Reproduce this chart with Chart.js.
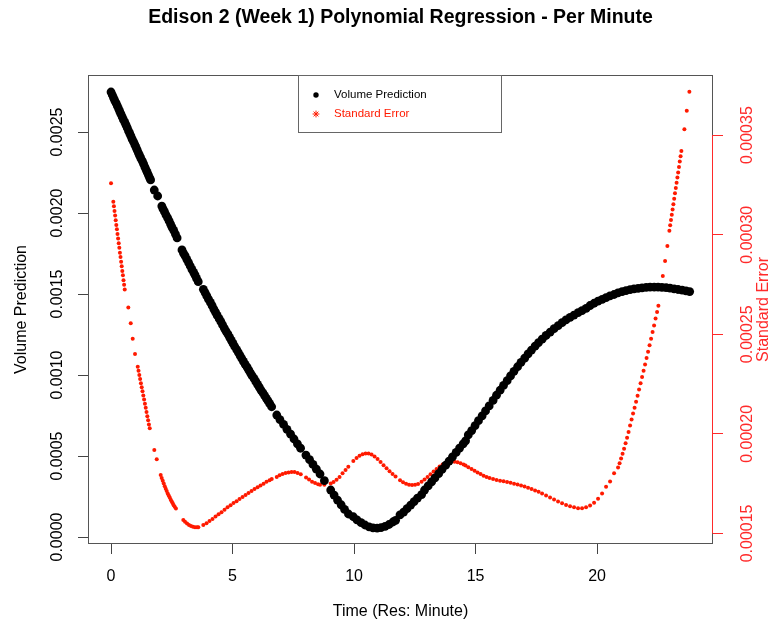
<!DOCTYPE html>
<html>
<head>
<meta charset="utf-8">
<script src="https://cdn.jsdelivr.net/npm/chart.js@4.4.0/dist/chart.umd.min.js"></script>
<style>
  html, body { margin: 0; padding: 0; background: #fff; }
  #wrap { width: 775px; height: 627px; }
</style>
</head>
<body>
<div id="wrap"><canvas id="chart" width="775" height="627"></canvas></div>
<script>
// time of day (hours) for the volume prediction points
const timeVol = [0, 0.05, 0.10, 0.15, 0.21, 0.26, 0.31, 0.36, 0.41, 0.46, 0.51, 0.57, 0.62, 0.67, 0.72, 0.77, 0.82, 0.87, 0.93, 0.98,
  1.03, 1.08, 1.13, 1.18, 1.23, 1.29, 1.34, 1.39, 1.44, 1.49, 1.54, 1.59, 1.63,
  1.78, 1.92,
  2.09, 2.14, 2.20, 2.26, 2.33, 2.39, 2.45, 2.51, 2.58, 2.65, 2.72,
  2.92, 2.98, 3.05, 3.12, 3.19, 3.26, 3.33, 3.40, 3.46, 3.52, 3.59,
  3.80, 3.87, 3.94, 4.01, 4.09, 4.16, 4.23, 4.30, 4.37, 4.45, 4.52, 4.59, 4.66, 4.73, 4.81, 4.88, 4.95, 5.02, 5.09, 5.17,
  5.24, 5.31, 5.38, 5.45, 5.52, 5.60, 5.67, 5.74, 5.81, 5.89, 5.96, 6.03, 6.10, 6.17, 6.25, 6.32, 6.39, 6.46, 6.53, 6.61,
  6.82, 6.95, 7.10, 7.24, 7.39, 7.53, 7.67, 7.80, 8.02, 8.17, 8.31, 8.45, 8.60, 8.78,
  9.04, 9.18, 9.32, 9.47, 9.61, 9.77, 9.97, 10.12, 10.29, 10.45, 10.62, 10.78, 10.95, 11.11, 11.28, 11.44, 11.60, 11.71,
  11.89, 12.04, 12.18, 12.33, 12.47, 12.61, 12.78, 12.90, 13.05, 13.19, 13.33, 13.48, 13.62, 13.77, 13.91, 14.05, 14.20, 14.34, 14.49, 14.59,
  14.70, 14.84, 14.98, 15.12, 15.27, 15.41, 15.56, 15.72, 15.86, 16.01, 16.15, 16.30, 16.44, 16.58, 16.73, 16.87, 17.02, 17.16, 17.30, 17.45, 17.59, 17.74,
  17.90, 18.07, 18.23, 18.40, 18.56, 18.72, 18.89, 19.05, 19.22, 19.38, 19.55, 19.71, 19.88, 20.04, 20.21, 20.37, 20.53, 20.70,
  20.86, 21.03, 21.19, 21.36, 21.52, 21.69, 21.85, 22.02, 22.18, 22.35, 22.51, 22.67, 22.84, 23.00, 23.17, 23.33, 23.50, 23.66, 23.81];

const volume = [0.002747, 0.002730, 0.002713, 0.002696, 0.002678, 0.002661, 0.002645, 0.002627, 0.002610, 0.002593, 0.002576, 0.002559, 0.002542, 0.002525, 0.002507, 0.002491, 0.002474, 0.002456, 0.002439, 0.002422,
  0.002405, 0.002388, 0.002370, 0.002354, 0.002337, 0.002320, 0.002303, 0.002285, 0.002268, 0.002251, 0.002234, 0.002217, 0.002204,
  0.002142, 0.002105,
  0.002043, 0.002025, 0.002008, 0.001989, 0.001970, 0.001951, 0.001932, 0.001912, 0.001893, 0.001870, 0.001846,
  0.001772, 0.001753, 0.001735, 0.001714, 0.001694, 0.001673, 0.001652, 0.001634, 0.001616, 0.001596, 0.001576,
  0.001529, 0.001509, 0.001488, 0.001468, 0.001448, 0.001428, 0.001407, 0.001388, 0.001368, 0.001348, 0.001329, 0.001309, 0.001290, 0.001271, 0.001252, 0.001233, 0.001214, 0.001195, 0.001176, 0.001157,
  0.001139, 0.001120, 0.001102, 0.001084, 0.001066, 0.001048, 0.001030, 0.001012, 0.000994, 0.000977, 0.000959, 0.000942, 0.000925, 0.000907, 0.000890, 0.000873, 0.000856, 0.000840, 0.000823, 0.000804,
  0.000753, 0.000725, 0.000695, 0.000665, 0.000635, 0.000605, 0.000575, 0.000548, 0.000506, 0.000477, 0.000448, 0.000419, 0.000389, 0.000348,
  0.000290, 0.000259, 0.000228, 0.000199, 0.000170, 0.000142, 0.000125, 0.000106, 0.0000883, 0.0000741, 0.0000630, 0.0000562, 0.0000543, 0.0000574, 0.0000661, 0.0000772, 0.0000926, 0.000103,
  0.000136, 0.000154, 0.000175, 0.000197, 0.000219, 0.000240, 0.000262, 0.000290, 0.000315, 0.000340, 0.000365, 0.000391, 0.000417, 0.000443, 0.000469, 0.000495, 0.000522, 0.000548, 0.000575, 0.000594,
  0.000630, 0.000657, 0.000688, 0.000718, 0.000748, 0.000778, 0.000809, 0.000843, 0.000875, 0.000906, 0.000936, 0.000965, 0.000994, 0.001023, 0.001051, 0.001078, 0.001104, 0.001130, 0.001154, 0.001178, 0.001200, 0.001221,
  0.001244, 0.001265, 0.001286, 0.001305, 0.001323, 0.001340, 0.001356, 0.001370, 0.001385, 0.001398, 0.001411, 0.001429, 0.001443, 0.001456, 0.001467, 0.001478, 0.001488, 0.001497,
  0.001507, 0.001515, 0.001521, 0.001527, 0.001532, 0.001535, 0.001538, 0.001541, 0.001543, 0.001543, 0.001543, 0.001541, 0.001539, 0.001536, 0.001532, 0.001528, 0.001524, 0.001519, 0.001515];

// time of day (hours) for the standard error points
const timeSe = [0,
  0.095, 0.119, 0.144, 0.169, 0.193, 0.218, 0.243, 0.267, 0.292, 0.317, 0.342, 0.366, 0.391, 0.416, 0.440, 0.465, 0.490, 0.514, 0.539, 0.564,
  0.712, 0.811, 0.893, 0.988,
  1.099, 1.132, 1.165, 1.198, 1.230, 1.263, 1.296, 1.329, 1.362, 1.395, 1.428, 1.461, 1.494, 1.527, 1.560, 1.593,
  1.782, 1.881,
  2.045, 2.086, 2.128, 2.169, 2.210, 2.251, 2.292, 2.333, 2.374, 2.416, 2.457, 2.498, 2.539, 2.580, 2.621, 2.671,
  2.975, 3.045, 3.128, 3.210, 3.292, 3.374, 3.457, 3.539, 3.593,
  3.798, 3.930, 4.053, 4.177, 4.300, 4.424, 4.547, 4.671, 4.794, 4.918, 5.041, 5.165, 5.288, 5.412, 5.535, 5.658, 5.782, 5.905, 6.029, 6.152, 6.276, 6.399, 6.523, 6.613,
  6.819, 6.934, 7.058, 7.181, 7.305, 7.428, 7.551, 7.675, 7.807,
  8.025, 8.148, 8.272, 8.395, 8.519, 8.601, 8.778,
  9.041, 9.156, 9.280, 9.403, 9.527, 9.650, 9.765,
  9.971, 10.103, 10.226, 10.350, 10.473, 10.597, 10.720, 10.844, 10.967, 11.091, 11.214, 11.337, 11.461, 11.584, 11.708,
  11.893, 12.016, 12.140, 12.263, 12.387, 12.510, 12.634, 12.778,
  12.901, 13.025, 13.148, 13.272, 13.395, 13.519, 13.642, 13.765, 13.889, 14.012, 14.136, 14.259, 14.383, 14.506, 14.588,
  14.704, 14.835, 14.959, 15.082, 15.206, 15.329, 15.453, 15.576, 15.720,
  15.864, 16.008, 16.152, 16.296, 16.440, 16.584, 16.728, 16.872, 17.016, 17.160, 17.305, 17.449, 17.593, 17.737, 17.901, 18.066,
  18.230, 18.395, 18.560, 18.724, 18.889, 19.053, 19.218, 19.383, 19.547, 19.712, 19.877, 20.041, 20.206, 20.370, 20.535, 20.700,
  20.864, 20.926, 20.988, 21.049, 21.111, 21.173, 21.235, 21.296, 21.358, 21.420, 21.481, 21.543, 21.605, 21.667, 21.728, 21.790,
  21.852, 21.914, 21.975, 22.037, 22.099, 22.160, 22.222, 22.284, 22.346, 22.407, 22.469, 22.523,
  22.704, 22.798, 22.893,
  22.975, 23.008, 23.041, 23.074, 23.107, 23.140, 23.173, 23.206, 23.239, 23.272, 23.305, 23.337, 23.370, 23.403, 23.436, 23.469,
  23.593, 23.691, 23.798];

const stdErr = [0.0003258,
  0.0003166, 0.0003143, 0.0003119, 0.0003096, 0.0003073, 0.0003049, 0.0003027, 0.0003003, 0.0002981, 0.0002957, 0.0002934, 0.0002910, 0.0002888, 0.0002864, 0.0002842, 0.0002818, 0.0002796, 0.0002772, 0.0002749, 0.0002725,
  0.0002634, 0.0002555, 0.0002477, 0.0002401,
  0.0002337, 0.0002317, 0.0002296, 0.0002275, 0.0002254, 0.0002234, 0.0002214, 0.0002193, 0.0002172, 0.0002151, 0.0002131, 0.0002110, 0.0002089, 0.0002068, 0.0002047, 0.0002028,
  0.0001919, 0.0001872,
  0.0001793, 0.0001779, 0.0001765, 0.0001751, 0.0001737, 0.0001725, 0.0001713, 0.0001700, 0.0001690, 0.0001680, 0.0001669, 0.0001660, 0.0001651, 0.0001642, 0.0001634, 0.0001625,
  0.0001568, 0.0001559, 0.0001550, 0.0001543, 0.0001538, 0.0001534, 0.0001531, 0.0001531, 0.0001531,
  0.0001542, 0.0001551, 0.0001562, 0.0001573, 0.0001585, 0.0001596, 0.0001607, 0.0001619, 0.0001631, 0.0001642, 0.0001653, 0.0001662, 0.0001673, 0.0001683, 0.0001693, 0.0001703, 0.0001713, 0.0001723, 0.0001732, 0.0001741, 0.0001750, 0.0001759, 0.0001767, 0.0001774,
  0.0001784, 0.0001792, 0.0001798, 0.0001803, 0.0001806, 0.0001808, 0.0001808, 0.0001804, 0.0001797,
  0.0001781, 0.0001771, 0.0001760, 0.0001753, 0.0001747, 0.0001745, 0.0001744,
  0.0001751, 0.0001758, 0.0001770, 0.0001784, 0.0001802, 0.0001819, 0.0001835,
  0.0001864, 0.0001879, 0.0001890, 0.0001898, 0.0001902, 0.0001901, 0.0001896, 0.0001886, 0.0001874, 0.0001859, 0.0001843, 0.0001827, 0.0001812, 0.0001798, 0.0001786,
  0.0001767, 0.0001757, 0.0001749, 0.0001745, 0.0001743, 0.0001744, 0.0001748, 0.0001759,
  0.0001771, 0.0001784, 0.0001797, 0.0001811, 0.0001824, 0.0001836, 0.0001846, 0.0001853, 0.0001859, 0.0001861, 0.0001860, 0.0001858, 0.0001852, 0.0001846, 0.0001841,
  0.0001833, 0.0001824, 0.0001815, 0.0001806, 0.0001798, 0.0001790, 0.0001784, 0.0001778, 0.0001773,
  0.0001768, 0.0001765, 0.0001762, 0.0001758, 0.0001755, 0.0001750, 0.0001746, 0.0001741, 0.0001736, 0.0001729, 0.0001723, 0.0001716, 0.0001709, 0.0001700, 0.0001690, 0.0001681,
  0.0001671, 0.0001660, 0.0001651, 0.0001643, 0.0001636, 0.0001631, 0.0001627, 0.0001627, 0.0001632, 0.0001640, 0.0001654, 0.0001674, 0.0001701, 0.0001734, 0.0001761, 0.0001802,
  0.0001831, 0.0001853, 0.0001876, 0.0001900, 0.0001925, 0.0001953, 0.0001980, 0.0002009, 0.0002042, 0.0002072, 0.0002102, 0.0002131, 0.0002161, 0.0002192, 0.0002223, 0.0002254,
  0.0002285, 0.0002317, 0.0002348, 0.0002381, 0.0002412, 0.0002445, 0.0002478, 0.0002511, 0.0002544, 0.0002579, 0.0002612, 0.0002643,
  0.0002793, 0.0002868, 0.0002943,
  0.0003020, 0.0003047, 0.0003074, 0.0003100, 0.0003127, 0.0003153, 0.0003181, 0.0003208, 0.0003234, 0.0003261, 0.0003287, 0.0003313, 0.0003340, 0.0003368, 0.0003394, 0.0003421,
  0.0003530, 0.0003622, 0.0003718];

const xTicks = [0, 5, 10, 15, 20];
const xTickLabels = ['0', '5', '10', '15', '20'];
const volTicks = [0, 0.0005, 0.001, 0.0015, 0.002, 0.0025];
const volTickLabels = ['0.0000', '0.0005', '0.0010', '0.0015', '0.0020', '0.0025'];
const seTicks = [0.00015, 0.0002, 0.00025, 0.0003, 0.00035];
const seTickLabels = ['0.00015', '0.00020', '0.00025', '0.00030', '0.00035'];

const FONT = "'Liberation Sans', Arial, Helvetica, sans-serif";
const RED = '#ff1a00';
const AXIS_RED = '#ff2a2a';

Chart.defaults.font.family = FONT;

const toPoints = (xs, ys) => xs.map((x, i) => ({ x: x, y: ys[i] }));

// box, red axis line, main title, right axis title and the legend (R style)
const framePlugin = {
  id: 'frame',
  afterDraw(chart) {
    const { ctx, chartArea: a, scales } = chart;
    ctx.save();
    ctx.lineWidth = 1;
    ctx.strokeStyle = '#555';
    ctx.strokeRect(a.left + 0.5, a.top + 0.5, a.right - a.left - 1, a.bottom - a.top - 1);

    const y2 = scales.y2;
    ctx.strokeStyle = AXIS_RED;
    ctx.beginPath();
    ctx.moveTo(a.right - 0.5, y2.getPixelForValue(seTicks[0]));
    ctx.lineTo(a.right - 0.5, y2.getPixelForValue(seTicks[seTicks.length - 1]));
    ctx.stroke();

    ctx.fillStyle = '#000';
    ctx.font = 'bold 19.5px ' + FONT;
    ctx.textAlign = 'center';
    ctx.textBaseline = 'middle';
    ctx.fillText('Edison 2 (Week 1) Polynomial Regression - Per Minute', (a.left + a.right) / 2, 18);

    ctx.save();
    ctx.translate(764, (a.top + a.bottom) / 2);
    ctx.rotate(-Math.PI / 2);
    ctx.fillStyle = AXIS_RED;
    ctx.font = '16px ' + FONT;
    ctx.fillText('Standard Error', 0, 0);
    ctx.restore();

    // legend
    const lx = 298.5, ly = a.top + 0.5, lw = 203, lh = 57;
    ctx.fillStyle = '#fff';
    ctx.fillRect(lx, ly, lw, lh);
    ctx.strokeStyle = '#666';
    ctx.strokeRect(lx, ly, lw, lh);

    ctx.fillStyle = '#000';
    ctx.beginPath();
    ctx.arc(316, ly + 19.5, 2.7, 0, Math.PI * 2);
    ctx.fill();

    const sx = 316, sy = ly + 38.5, r = 3.4;
    ctx.strokeStyle = RED;
    ctx.lineWidth = 1;
    ctx.beginPath();
    ctx.moveTo(sx - r, sy); ctx.lineTo(sx + r, sy);
    ctx.moveTo(sx, sy - r); ctx.lineTo(sx, sy + r);
    ctx.moveTo(sx - r * 0.7, sy - r * 0.7); ctx.lineTo(sx + r * 0.7, sy + r * 0.7);
    ctx.moveTo(sx - r * 0.7, sy + r * 0.7); ctx.lineTo(sx + r * 0.7, sy - r * 0.7);
    ctx.stroke();

    ctx.font = '11.5px ' + FONT;
    ctx.textAlign = 'left';
    ctx.fillStyle = '#000';
    ctx.fillText('Volume Prediction', 334, ly + 19.5);
    ctx.fillStyle = RED;
    ctx.fillText('Standard Error', 334, sy);
    ctx.restore();
  }
};

new Chart(document.getElementById('chart'), {
  type: 'scatter',
  data: {
    datasets: [
      {
        label: 'Volume Prediction',
        data: toPoints(timeVol, volume),
        yAxisID: 'y',
        pointRadius: 4.4,
        pointBorderWidth: 0,
        backgroundColor: '#000',
        borderColor: '#000'
      },
      {
        label: 'Standard Error',
        data: toPoints(timeSe, stdErr),
        yAxisID: 'y2',
        pointRadius: 2,
        pointBorderWidth: 0,
        backgroundColor: RED,
        borderColor: RED
      }
    ]
  },
  plugins: [framePlugin],
  options: {
    responsive: false,
    animation: false,
    devicePixelRatio: 1,
    layout: { padding: { top: 75, left: 0, right: 0, bottom: 0 } },
    plugins: {
      legend: { display: false },
      title: { display: false },
      tooltip: { enabled: false }
    },
    scales: {
      x: {
        type: 'linear',
        min: -0.947,
        max: 24.77,
        afterBuildTicks: (s) => { s.ticks = xTicks.map(v => ({ value: v })); },
        afterFit: (s) => { s.height = 83; },
        grid: { drawOnChartArea: false, drawTicks: true, tickLength: 10, tickColor: '#444' },
        border: { display: false },
        ticks: {
          font: { size: 16 },
          color: '#000',
          padding: 13,
          maxRotation: 0,
          callback: (v, i) => xTickLabels[i]
        },
        title: { display: true, text: 'Time (Res: Minute)', color: '#000', font: { size: 16 }, padding: { top: 0, bottom: 6 } }
      },
      y: {
        type: 'linear',
        position: 'left',
        min: -0.0000432,
        max: 0.002852,
        afterBuildTicks: (s) => { s.ticks = volTicks.map(v => ({ value: v })); },
        afterFit: (s) => { s.width = 88; },
        grid: { drawOnChartArea: false, drawTicks: true, tickLength: 10, tickColor: '#444' },
        border: { display: false },
        ticks: {
          font: { size: 16 },
          color: '#000',
          minRotation: 90,
          maxRotation: 90,
          crossAlign: 'center',
          padding: -4.5,
          callback: (v, i) => volTickLabels[i]
        },
        title: { display: true, text: 'Volume Prediction', color: '#000', font: { size: 16 }, padding: { top: 12, bottom: 0 } }
      },
      y2: {
        type: 'linear',
        position: 'right',
        min: 0.0001447,
        max: 0.0003802,
        afterBuildTicks: (s) => { s.ticks = seTicks.map(v => ({ value: v })); },
        afterFit: (s) => { s.width = 62; },
        grid: { drawOnChartArea: false, drawTicks: true, tickLength: 10, tickColor: AXIS_RED },
        border: { display: false },
        ticks: {
          font: { size: 16 },
          color: AXIS_RED,
          minRotation: 90,
          maxRotation: 90,
          crossAlign: 'center',
          padding: -4.4,
          callback: (v, i) => seTickLabels[i]
        }
      }
    }
  }
});
</script>
</body>
</html>
